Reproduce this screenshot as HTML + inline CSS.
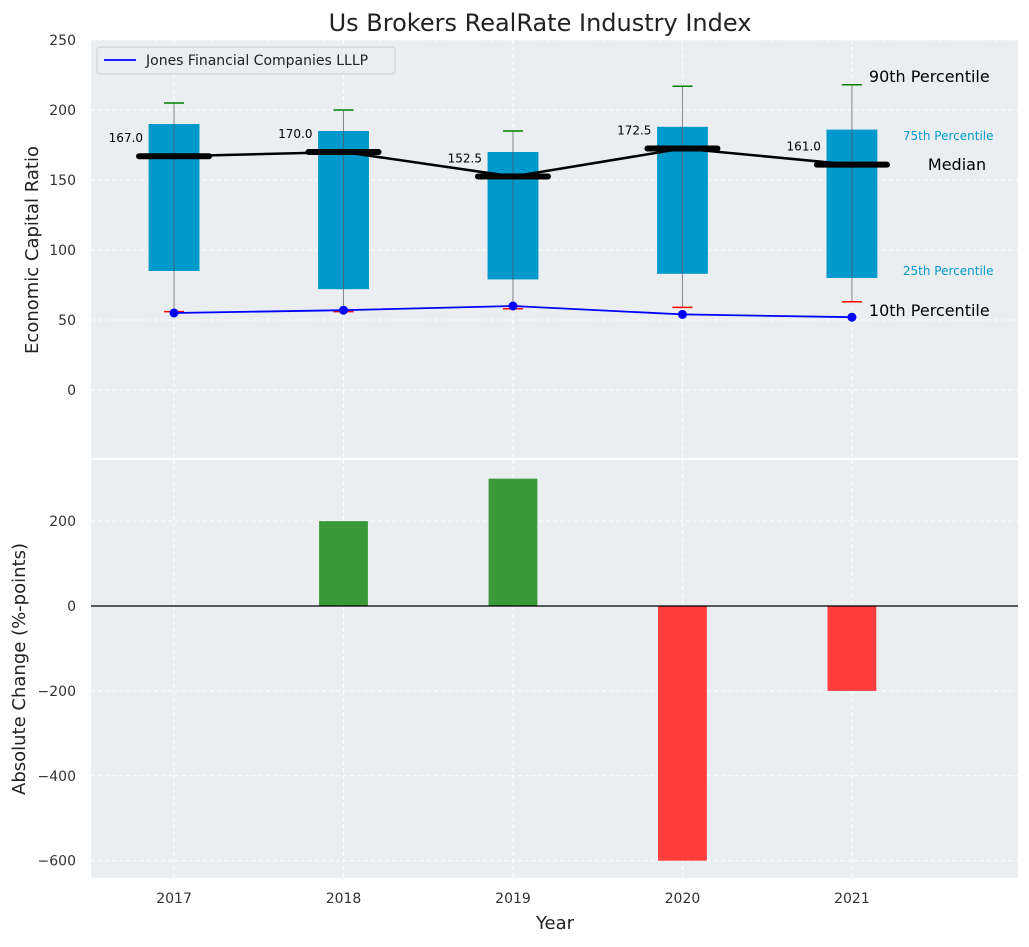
<!DOCTYPE html>
<html><head><meta charset="utf-8"><style>
body{margin:0;background:#fff;font-family:"Liberation Sans","DejaVu Sans",sans-serif}
</style></head><body>
<svg id="c" width="1029" height="942" xmlns="http://www.w3.org/2000/svg" font-family="DejaVu Sans, Liberation Sans, sans-serif"></svg>
<script>
const years=[2017,2018,2019,2020,2021];
const p10=[56,56,58,59,63];
const p25=[85,72,79,83,80];
const median=[167,170,152.5,172.5,161];
const p75=[190,185,170,188,186];
const p90=[205,200,185,217,218];
const company=[55,57,60,54,52];
const change=[0,200,300,-600,-200];
const topTicks=[0,50,100,150,200,250];
const botTicks=[-600,-400,-200,0,200];
const NS='http://www.w3.org/2000/svg';
const svg=document.getElementById('c');
function el(t,a,txt){const e=document.createElementNS(NS,t);for(const k in a)e.setAttribute(k,a[k]);if(txt!==undefined)e.textContent=txt;svg.appendChild(e);return e;}
const L=91,R=1018;
const x=v=>L+(v-2016.51)*(R-L)/(2021.98-2016.51);
const yT=v=>390-v*1.4;
const yB=v=>606-v*0.4245;
const pw=169.5;
let r=el('rect',{x:L,y:40,width:R-L,height:418,fill:'#eaeef0'});

r=el('rect',{x:L,y:460,width:R-L,height:418,fill:'#eaeef0'});

topTicks.forEach(t=>{let g=el('line',{x1:L,x2:R,y1:yT(t),y2:yT(t),stroke:'#fff','stroke-dasharray':'4,3'});
let tx=el('text',{x:76,y:yT(t)+5,'text-anchor':'end','font-size':14,fill:'#333'},t);});
botTicks.forEach(t=>{let g=el('line',{x1:L,x2:R,y1:yB(t),y2:yB(t),stroke:'#fff','stroke-dasharray':'4,3'});
let tx=el('text',{x:76,y:yB(t)+5,'text-anchor':'end','font-size':14,fill:'#333'},t<0?'\u2212'+(-t):t);});
years.forEach(yv=>{[[40,458],[460,878]].forEach(([a,b])=>{let g=el('line',{x1:x(yv),x2:x(yv),y1:a,y2:b,stroke:'#fff','stroke-dasharray':'4,3'});});
let tx=el('text',{x:x(yv),y:903,'text-anchor':'middle','font-size':14,fill:'#333'},yv);});
const bw=0.3*pw;
years.forEach((yv,i)=>{const cx=x(yv);
let b=el('rect',{x:cx-bw/2,y:yT(p75[i]),width:bw,height:yT(p25[i])-yT(p75[i]),fill:'#0099cc'});
let w=el('line',{x1:cx,x2:cx,y1:yT(p90[i]),y2:yT(p10[i]),stroke:'#556','stroke-width':1,opacity:0.7});
let c1=el('line',{x1:cx-10,x2:cx+10,y1:yT(p90[i]),y2:yT(p90[i]),stroke:'green','stroke-width':1.5});
let c2=el('line',{x1:cx-10,x2:cx+10,y1:yT(p10[i]),y2:yT(p10[i]),stroke:'red','stroke-width':1.5});
});
let mp=el('polyline',{points:years.map((yv,i)=>x(yv)+','+yT(median[i])).join(' '),fill:'none',stroke:'#000','stroke-width':2.5});
years.forEach((yv,i)=>{const cx=x(yv);
let m=el('line',{x1:cx-35,x2:cx+35,y1:yT(median[i]),y2:yT(median[i]),stroke:'#000','stroke-width':6,'stroke-linecap':'round'});
let t=el('text',{x:cx-31,y:yT(median[i])-14,'text-anchor':'end','font-size':12,fill:'#000'},median[i].toFixed(1));});
let cp=el('polyline',{points:years.map((yv,i)=>x(yv)+','+yT(company[i])).join(' '),fill:'none',stroke:'blue','stroke-width':1.8});
years.forEach((yv,i)=>{let d=el('circle',{cx:x(yv),cy:yT(company[i]),r:4.5,fill:'blue'});});
const lx=x(2021);
[['90th Percentile',lx+17,82,16,'#000'],['75th Percentile',lx+51,140,12,'#0099cc'],['Median',lx+76,170,16,'#000'],['25th Percentile',lx+51,275,12,'#0099cc'],['10th Percentile',lx+17,316,16,'#000']].forEach(a=>{let t=el('text',{x:a[1],y:a[2],'font-size':a[3],fill:a[4]},a[0]);});
years.forEach((yv,i)=>{const v=change[i];if(!v)return;let b=el('rect',{x:x(yv)-bw*0.96/2,y:Math.min(yB(v),yB(0)),width:bw*0.96,height:Math.abs(yB(v)-yB(0)),fill:v>0?'#3a9a3a':'#ff3d3d'});});
let z=el('line',{x1:L,x2:R,y1:yB(0),y2:yB(0),stroke:'#000','stroke-width':1.2});
let lg=el('rect',{x:97,y:47,width:298,height:27,rx:3,fill:'#eaeef0',stroke:'#ccc'});
let ll=el('line',{x1:104,x2:136,y1:60,y2:60,stroke:'blue','stroke-width':1.8});
let lt=el('text',{x:146,y:65,'font-size':14,fill:'#222'},'Jones Financial Companies LLLP');
let tt=el('text',{x:540,y:31,'text-anchor':'middle','font-size':24,fill:'#222'},'Us Brokers RealRate Industry Index');
let y1=el('text',{x:0,y:0,'text-anchor':'middle','font-size':18,fill:'#222',transform:'translate(38,250) rotate(-90)'},'Economic Capital Ratio');
let y2=el('text',{x:0,y:0,'text-anchor':'middle','font-size':18,fill:'#222',transform:'translate(25,669) rotate(-90)'},'Absolute Change (%-points)');
let xt=el('text',{x:555,y:929,'text-anchor':'middle','font-size':18,fill:'#222'},'Year');
</script>
</body></html>
